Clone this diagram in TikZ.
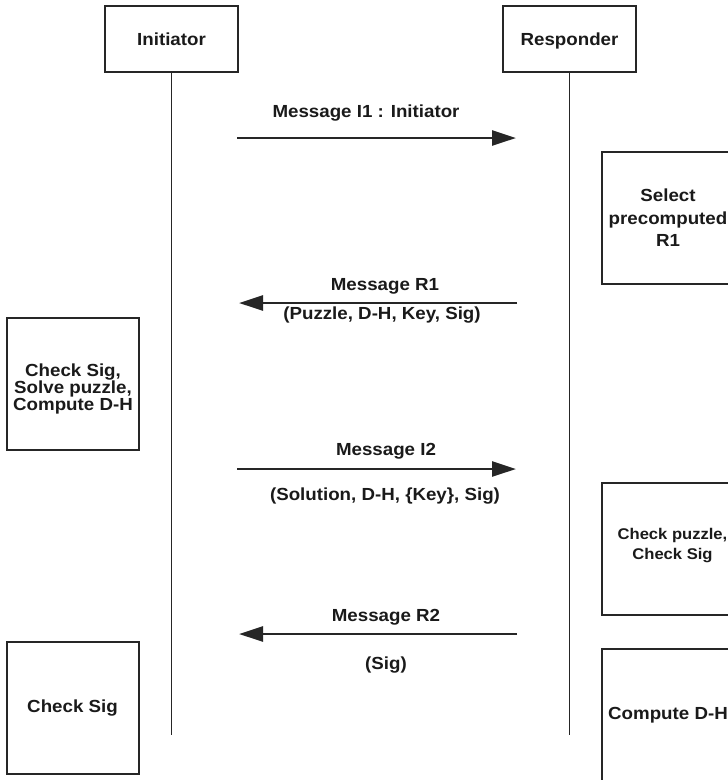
\documentclass[tikz,border=0pt]{standalone}
\usepackage{fontspec}
\setmainfont{Liberation Sans}[FakeStretch=1.07]
\usetikzlibrary{arrows.meta}
\definecolor{ink}{HTML}{1A1A1A}
\definecolor{linec}{HTML}{262626}
\begin{document}
\begin{tikzpicture}[x=1pt,y=-1pt,
  txt/.style={font=\fontsize{17.5}{21}\selectfont\bfseries,text=ink},
  head/.style={txt,draw=linec,line width=2pt,minimum width=133pt,minimum height=66pt,inner sep=0pt,text height=12.5pt,text depth=0pt},
  task/.style={txt,draw=linec,line width=2pt,minimum width=132pt,minimum height=132pt,inner sep=0pt,align=center},
  boxtxt/.style={txt,inner sep=0pt,align=center},
  life/.style={draw=linec,line width=1.9pt},
  msg/.style={draw=linec,line width=2.7pt,-{Triangle[length=24pt,width=15pt]}},
  lab/.style={txt,inner sep=0pt,anchor=base}]
\path[use as bounding box,fill=white] (0,0) rectangle (728,780);
\clip (0,0) rectangle (728,780);

% lifeline heads
\node[head] (init) at (171.5,39) {Initiator};
\node[head] (resp) at (569.5,39) {Responder};
\coordinate (initend) at (171.5,735);
\coordinate (respend) at (569.5,735);
\draw[life] (init.south) -- (initend);
\draw[life] (resp.south) -- (respend);

% activity boxes
\node[task,font=\fontsize{17.5}{22.5}\selectfont\bfseries] (sel) at (668,218) {Select\\precomputed\\R1};
\node[task] (chkA) at (72.5,383.5) {};
\node[boxtxt,font=\fontsize{17.5}{17.3}\selectfont\bfseries] (chkAt) at (73,389) {Check Sig,\\Solve puzzle,\\Compute D-H};
\node[task] (chkP) at (668,549) {};
\node[boxtxt,font=\fontsize{15.5}{20}\selectfont\bfseries] (chkPt) at (672.5,545.5) {Check puzzle,\\Check Sig};
\node[task] (cdh) at (668,715) {Compute D-H};
\node[task] (chkB) at (72.5,708) {Check Sig};

% messages
\coordinate (a1s) at (237,138); \coordinate (a1e) at (516,138);
\coordinate (a2s) at (517,303); \coordinate (a2e) at (239,303);
\coordinate (a3s) at (237,469); \coordinate (a3e) at (516,469);
\coordinate (a4s) at (517,634); \coordinate (a4e) at (239,634);
\draw[msg] (a1s) -- (a1e);
\draw[msg] (a2s) -- (a2e);
\draw[msg] (a3s) -- (a3e);
\draw[msg] (a4s) -- (a4e);

% labels
\node[lab] (l1) at (366,117.5) {Message I1 : Initiator};
\node[lab] (l2) at (385,290.7) {Message R1};
\node[lab] (l2b) at (382,319.5) {(Puzzle, D-H, Key, Sig)};
\node[lab] (l3) at (386,455.7) {Message I2};
\node[lab] (l3b) at (385,500.5) {(Solution, D-H, \{Key\}, Sig)};
\node[lab] (l4) at (386,621.7) {Message R2};
\node[lab] (l4b) at (386,669) {(Sig)};
\end{tikzpicture}
\end{document}
